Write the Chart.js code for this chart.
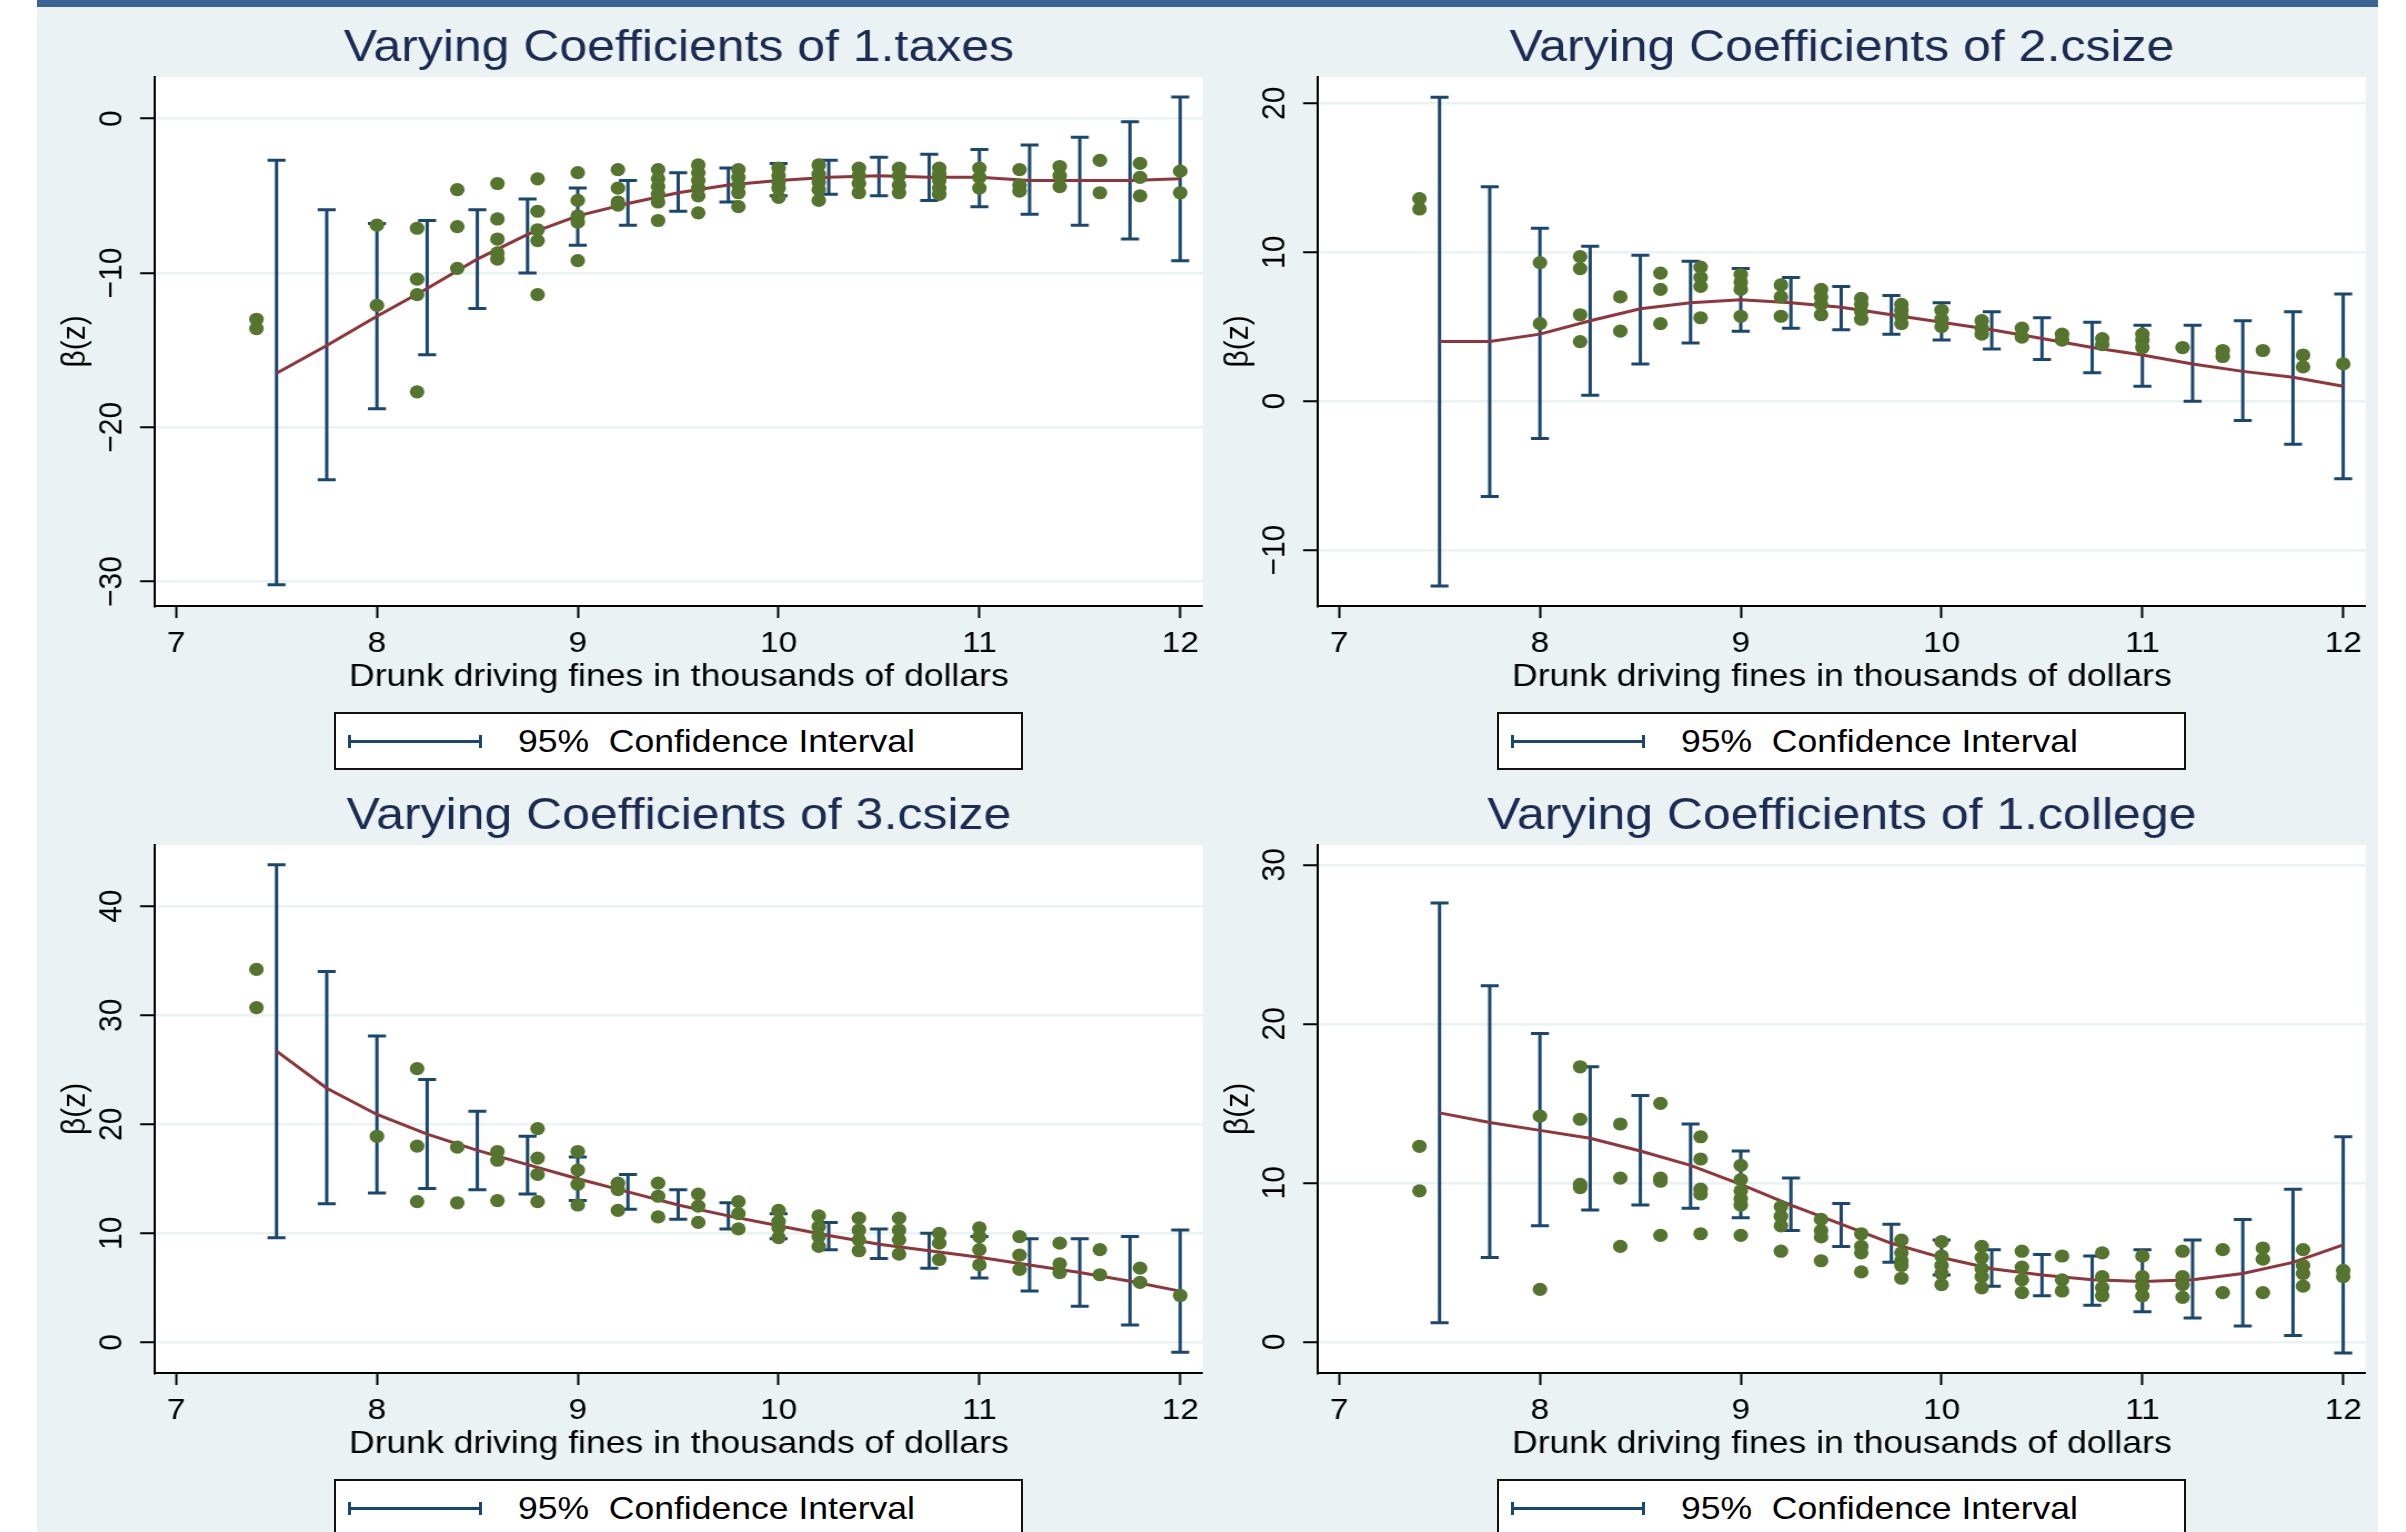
<!DOCTYPE html>
<html>
<head>
<meta charset="utf-8">
<script src="https://cdn.jsdelivr.net/npm/chart.js@4.4.1/dist/chart.umd.min.js"></script>
<style>
  html, body { margin: 0; padding: 0; background: #fff; }
  body { position: relative; width: 2406px; height: 1532px; overflow: hidden; font-family: "Liberation Sans", Arial, sans-serif; }
  #figure { position: absolute; left: 37px; top: 0; width: 2341px; height: 1532px; background: #eaf2f3; }
  #figure .bar { position: absolute; left: 0; top: 0; width: 100%; height: 7px; background: #3a6393; }
  canvas { position: absolute; }
  .legend { position: absolute; width: 689px; height: 58px; box-sizing: border-box; border: 2px solid #111; background: #fff; }
  .legend .sym { position: absolute; left: 12px; top: 26px; width: 134px; height: 3px; background: #1a476f; }
  .legend .sym::before, .legend .sym::after { content: ''; position: absolute; top: -5px; width: 3px; height: 13px; background: #1a476f; }
  .legend .sym::before { left: 0; }
  .legend .sym::after { right: 0; }
  .legend .txt { position: absolute; left: 182px; top: 0; line-height: 54px; font-size: 32px; color: #000; white-space: pre; transform: scaleX(1.11); transform-origin: left center; }
</style>
</head>
<body>
<div id="figure"><div class="bar"></div></div>
<script>
// grids shared by every panel
const xTicks = [7, 8, 9, 10, 11, 12];
const ciGrid = [7.5, 7.75, 8, 8.25, 8.5, 8.75, 9, 9.25, 9.5, 9.75, 10, 10.25, 10.5, 10.75, 11, 11.25, 11.5, 11.75, 12];
const dotGrid = [7.4, 8, 8.2, 8.4, 8.6, 8.8, 9, 9.2, 9.4, 9.6, 9.8, 10, 10.2, 10.4, 10.6, 10.8, 11, 11.2, 11.4, 11.6, 11.8, 12];
const ciLabel = "95%  Confidence Interval";
const xTitle = "Drunk driving fines in thousands of dollars";

// 1.taxes
const taxesTicks = [-30, -20, -10, 0];
const taxesHi = [-2.7, -5.9, -6.8, -6.6, -5.9, -5.2, -4.5, -4.0, -3.5, -3.2, -2.9, -2.7, -2.5, -2.3, -2.0, -1.7, -1.2, -0.2, 1.4];
const taxesLo = [-30.2, -23.4, -18.8, -15.3, -12.3, -10.0, -8.2, -6.9, -6.0, -5.4, -5.0, -4.9, -5.0, -5.3, -5.7, -6.2, -6.9, -7.8, -9.2];
const taxesFit = [-16.5, -14.7, -12.8, -11.0, -9.1, -7.5, -6.3, -5.5, -4.8, -4.3, -4.0, -3.8, -3.7, -3.8, -3.8, -4.0, -4.0, -4.0, -3.9];
const taxesDots = [
  [-13.0, -13.6], [-6.9, -12.1], [-7.1, -10.4, -11.4, -17.7], [-4.6, -7.0, -9.7],
  [-4.2, -6.5, -7.8, -8.7, -9.1], [-3.9, -6.0, -7.2, -7.9, -11.4], [-3.5, -5.3, -6.3, -6.7, -9.2],
  [-3.3, -4.5, -5.4, -5.6], [-3.3, -3.9, -4.4, -4.9, -5.4, -6.6], [-3.0, -3.5, -4.0, -4.5, -5.0, -6.1],
  [-3.3, -3.8, -4.3, -4.8, -5.7], [-3.2, -3.7, -4.1, -4.5, -5.1], [-3.0, -3.6, -4.1, -4.6, -5.3],
  [-3.2, -3.7, -4.2, -4.8], [-3.2, -3.7, -4.3, -4.8], [-3.2, -3.6, -4.0, -4.5, -4.9],
  [-3.2, -3.8, -4.5], [-3.3, -4.3, -4.7], [-3.1, -3.7, -4.4], [-2.7, -4.8], [-2.9, -3.8, -5.0], [-3.4, -4.8]
];

// 2.csize
const csize2Ticks = [-10, 0, 10, 20];
const csize2Hi = [20.4, 14.4, 11.6, 10.4, 9.8, 9.4, 8.9, 8.3, 7.7, 7.1, 6.6, 6.0, 5.6, 5.3, 5.1, 5.1, 5.4, 6.0, 7.2];
const csize2Lo = [-12.4, -6.4, -2.5, 0.4, 2.5, 3.9, 4.7, 4.9, 4.8, 4.5, 4.1, 3.5, 2.8, 1.9, 1.0, 0.0, -1.3, -2.9, -5.2];
const csize2Fit = [4.0, 4.0, 4.5, 5.4, 6.2, 6.6, 6.8, 6.6, 6.3, 5.8, 5.3, 4.8, 4.2, 3.6, 3.1, 2.5, 2.0, 1.6, 1.0];
const csize2Dots = [
  [13.6, 12.9], [9.3, 5.2], [9.7, 8.9, 5.8, 4.0], [7.0, 4.7], [8.6, 7.5, 5.2], [9.0, 8.3, 7.7, 5.6],
  [8.5, 8.0, 7.5, 5.7], [7.8, 7.0, 5.7], [7.5, 7.0, 6.5, 5.8], [6.9, 6.5, 6.0, 5.5], [6.5, 6.1, 5.7, 5.2],
  [6.1, 5.5, 5.0], [5.4, 4.9, 4.5], [4.9, 4.3], [4.5, 4.1], [4.2, 3.8], [4.5, 4.1, 3.6], [3.6],
  [3.4, 3.0], [3.4], [3.1, 2.3], [2.5]
];

// 3.csize
const csize3Ticks = [0, 10, 20, 30, 40];
const csize3Hi = [43.8, 34.0, 28.1, 24.1, 21.2, 18.9, 17.0, 15.4, 14.0, 12.8, 11.8, 11.0, 10.4, 10.0, 9.7, 9.5, 9.5, 9.7, 10.3];
const csize3Lo = [9.6, 12.7, 13.7, 14.1, 14.0, 13.6, 13.0, 12.2, 11.3, 10.4, 9.5, 8.5, 7.7, 6.8, 5.9, 4.7, 3.3, 1.6, -0.9];
const csize3Fit = [26.7, 23.3, 20.9, 19.1, 17.6, 16.3, 15.0, 13.8, 12.6, 11.6, 10.7, 9.8, 9.0, 8.4, 7.8, 7.1, 6.4, 5.6, 4.7];
const csize3Dots = [
  [34.2, 30.7], [18.9], [25.1, 18.0, 12.9], [17.9, 12.8], [17.5, 16.7, 13.0], [19.6, 16.9, 15.4, 12.9],
  [17.5, 15.8, 14.5, 12.6], [14.6, 14.0, 12.1], [14.6, 13.4, 11.5], [13.6, 12.5, 11.0], [12.9, 11.8, 10.4],
  [12.1, 11.1, 10.5, 9.6], [11.6, 10.6, 9.7, 8.8], [11.4, 10.3, 9.4, 8.4], [11.4, 10.3, 9.4, 8.1],
  [10.0, 9.1, 7.6], [10.5, 9.7, 8.5, 7.1], [9.7, 8.0, 6.7], [9.1, 7.2, 6.4], [8.5, 6.2], [6.8, 5.5], [4.3]
];

// 1.college
const collegeTicks = [0, 10, 20, 30];
const collegeHi = [27.6, 22.4, 19.4, 17.3, 15.5, 13.7, 12.0, 10.3, 8.7, 7.4, 6.4, 5.8, 5.5, 5.4, 5.8, 6.4, 7.7, 9.6, 12.9];
const collegeLo = [1.2, 5.3, 7.3, 8.3, 8.6, 8.4, 7.8, 7.0, 6.0, 5.0, 4.2, 3.5, 2.9, 2.3, 1.9, 1.5, 1.0, 0.4, -0.7];
const collegeFit = [14.4, 13.8, 13.3, 12.8, 12.0, 11.1, 9.9, 8.6, 7.4, 6.2, 5.3, 4.6, 4.2, 3.9, 3.8, 3.9, 4.3, 5.0, 6.1];
const collegeDots = [
  [12.3, 9.5], [14.2, 3.3], [17.3, 14.0, 9.9, 9.7], [13.7, 10.3, 6.0], [15.0, 10.3, 10.1, 6.7],
  [12.9, 11.5, 9.6, 9.3, 6.8], [11.1, 10.2, 9.5, 9.0, 8.6, 6.7], [8.5, 7.9, 7.3, 5.7], [7.7, 7.0, 6.6, 5.1],
  [6.8, 6.0, 5.6, 4.4], [6.4, 5.6, 5.1, 4.8, 4.0], [6.3, 5.4, 4.8, 4.3, 3.6], [6.0, 5.3, 4.6, 4.1, 3.4],
  [5.7, 4.7, 3.9, 3.1], [5.4, 3.9, 3.2], [5.6, 4.1, 3.4, 2.9], [5.4, 4.1, 3.5, 2.9], [5.7, 4.1, 3.6, 2.8],
  [5.8, 3.1], [5.9, 5.2, 3.1], [5.8, 4.8, 4.3, 3.5], [4.5, 4.1]
];

const NAVY = "#1a476f";
const MAROON = "#90353b";
const GREEN = "#55752f";
const STATA_BG = "#eaf2f3";
const FONT = '"Liberation Sans", Arial, Helvetica, sans-serif';

// the reference is a bit wider than tall, so every canvas is stretched sideways
const STRETCH = 1.11;
const Y_TICK_LEN = 13.5;
const Y_LABEL_CENTER = 68; // canvas px from canvas left

Chart.defaults.font.family = FONT;
Chart.defaults.color = "#000";

// Stata writes negative ticks with a long minus
const fmtTick = (v) => String(v).replace("-", "\u2212");

const plotBackground = {
  id: "plotBackground",
  beforeDraw(chart) {
    const { ctx, chartArea: a } = chart;
    ctx.save();
    ctx.fillStyle = "#fff";
    ctx.fillRect(a.left, a.top, a.right - a.left, a.bottom - a.top);
    ctx.restore();
  },
};

// Stata centres the title on the plot region, not on the whole graph
const panelTitle = {
  id: "panelTitle",
  afterDraw(chart, args, opts) {
    const { ctx, chartArea: a } = chart;
    ctx.save();
    ctx.font = "45px " + FONT;
    ctx.fillStyle = "#1c2b52";
    ctx.textAlign = "center";
    ctx.textBaseline = "alphabetic";
    ctx.fillText(opts.text, (a.left + a.right) / 2, a.top - 16.5);
    ctx.restore();
  },
};

const measureCtx = document.createElement("canvas").getContext("2d");
measureCtx.font = "30px " + FONT;

function makePanel(p) {
  const canvas = document.createElement("canvas");
  const w = Math.round((p.canvasRight - p.canvasLeft) / STRETCH);
  canvas.width = w;
  canvas.height = p.height;
  canvas.style.left = p.canvasLeft + "px";
  canvas.style.top = p.canvasTop + "px";
  canvas.style.width = w * STRETCH + "px";
  canvas.style.height = p.height + "px";
  document.body.appendChild(canvas);

  const yAxisW = (p.plotLeft - p.canvasLeft) / STRETCH;
  const padRight = w - (p.plotRight - p.canvasLeft) / STRETCH;
  const widest = Math.max(...p.yTicks.map((v) => measureCtx.measureText(fmtTick(v)).width));
  const yTickPad = yAxisW - Y_TICK_LEN - Y_LABEL_CENTER - widest / 2;

  const dots = dotGrid.flatMap((x, i) => p.dots[i].map((y) => ({ x, y })));
  const ci = ciGrid.flatMap((x, i) => [{ x, y: p.lo[i] }, { x, y: p.hi[i] }, { x, y: null }]);
  const fit = ciGrid.map((x, i) => ({ x, y: p.fit[i] }));

  const chart = new Chart(canvas, {
    type: "scatter",
    data: {
      datasets: [
        {
          label: "β(z)",
          data: dots,
          order: 0,
          pointRadius: 6.6,
          pointBorderWidth: 0,
          pointBackgroundColor: GREEN,
          pointBorderColor: GREEN,
        },
        {
          label: "fit",
          data: fit,
          order: 1,
          showLine: true,
          borderColor: MAROON,
          borderWidth: 3,
          pointRadius: 0,
          tension: 0,
        },
        {
          label: ciLabel,
          data: ci,
          order: 2,
          showLine: true,
          spanGaps: false,
          borderColor: NAVY,
          borderWidth: 3,
          pointStyle: "line",
          pointRadius: 8.1,
          pointBorderWidth: 3,
          pointBorderColor: NAVY,
        },
      ],
    },
    options: {
      responsive: false,
      animation: false,
      events: [],
      layout: { padding: { left: 0, right: padRight, top: 77, bottom: 0 } },
      plugins: {
        legend: { display: false },
        tooltip: { enabled: false },
        panelTitle: { text: p.title },
      },
      scales: {
        x: {
          type: "linear",
          min: 6.895,
          max: 12.112,
          bounds: "data",
          afterBuildTicks: (s) => { s.ticks = xTicks.map((v) => ({ value: v })); },
          afterFit: (s) => { s.height = 94; },
          grid: { drawOnChartArea: false, tickColor: "#000", tickLength: 12, tickWidth: 2 },
          border: { display: true, color: "#000", width: 2 },
          ticks: { autoSkip: false, minRotation: 0, maxRotation: 0, padding: 7.4, color: "#000", font: { size: 30 } },
          title: { display: true, text: xTitle, color: "#000", font: { size: 32 }, padding: { top: 0, bottom: 3.2 } },
        },
        y: {
          type: "linear",
          min: p.yMin,
          max: p.yMax,
          bounds: "data",
          afterBuildTicks: (s) => { s.ticks = p.yTicks.map((v) => ({ value: v })); },
          afterFit: (s) => { s.width = yAxisW; },
          grid: { color: STATA_BG, lineWidth: 2.5, tickColor: "#000", tickLength: Y_TICK_LEN, tickWidth: 2 },
          border: { display: true, color: "#000", width: 2 },
          ticks: {
            autoSkip: false, minRotation: 90, maxRotation: 90, crossAlign: "center",
            padding: yTickPad, color: "#000", font: { size: 30 }, callback: fmtTick,
          },
          title: { display: true, text: "β(z)", color: "#000", font: { size: 30 }, padding: { top: 16.6, bottom: 0 } },
        },
      },
    },
    plugins: [plotBackground, panelTitle],
  });

  // legend box under the axis title, centred on the plot region
  const a = chart.chartArea;
  const centre = p.canvasLeft + ((a.left + a.right) / 2) * STRETCH;
  const legend = document.createElement("div");
  legend.className = "legend";
  legend.style.left = Math.round(centre - 345) + "px";
  legend.style.top = p.canvasTop + a.bottom + 106 + "px";
  const sym = document.createElement("div");
  sym.className = "sym";
  const txt = document.createElement("div");
  txt.className = "txt";
  txt.textContent = chart.data.datasets[2].label;
  legend.appendChild(sym);
  legend.appendChild(txt);
  document.body.appendChild(legend);
}

const panels = [
  { title: "Varying Coefficients of 1.taxes", yTicks: taxesTicks, yMin: -31.58, yMax: 2.70,
    hi: taxesHi, lo: taxesLo, fit: taxesFit, dots: taxesDots,
    canvasLeft: 37, canvasRight: 1215, canvasTop: 0, height: 700, plotLeft: 155, plotRight: 1208 },
  { title: "Varying Coefficients of 2.csize", yTicks: csize2Ticks, yMin: -13.75, yMax: 21.76,
    hi: csize2Hi, lo: csize2Lo, fit: csize2Fit, dots: csize2Dots,
    canvasLeft: 1200, canvasRight: 2378, canvasTop: 0, height: 700, plotLeft: 1318, plotRight: 2371 },
  { title: "Varying Coefficients of 3.csize", yTicks: csize3Ticks, yMin: -2.81, yMax: 45.61,
    hi: csize3Hi, lo: csize3Lo, fit: csize3Fit, dots: csize3Dots,
    canvasLeft: 37, canvasRight: 1215, canvasTop: 768, height: 699, plotLeft: 155, plotRight: 1208 },
  { title: "Varying Coefficients of 1.college", yTicks: collegeTicks, yMin: -1.96, yMax: 31.25,
    hi: collegeHi, lo: collegeLo, fit: collegeFit, dots: collegeDots,
    canvasLeft: 1200, canvasRight: 2378, canvasTop: 768, height: 699, plotLeft: 1318, plotRight: 2371 },
];

panels.forEach(makePanel);
</script>
</body>
</html>
